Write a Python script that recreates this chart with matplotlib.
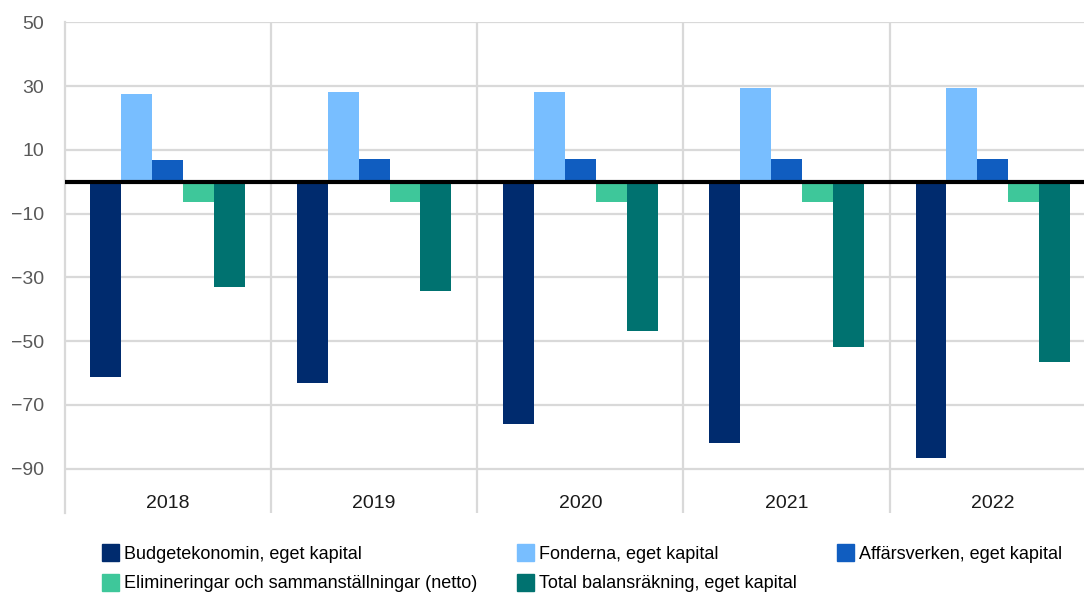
import matplotlib.pyplot as plt
import matplotlib.patches as mpatches
import numpy as np

plt.rcParams['font.family'] = ['Liberation Sans', 'DejaVu Sans']

years = ['2018', '2019', '2020', '2021', '2022']
budget = [-61.4, -63.0, -75.9, -82.1, -86.8]
fonderna = [27.5, 28.1, 28.1, 29.4, 29.4]
affarsverken = [6.8, 7.1, 7.1, 7.1, 7.1]
elim = [-6.3, -6.3, -6.3, -6.3, -6.3]
total = [-32.9, -34.2, -46.7, -51.7, -56.4]

series = [
    ('Budgetekonomin, eget kapital', budget, '#002B6E'),
    ('Fonderna, eget kapital', fonderna, '#78BEFF'),
    ('Affärsverken, eget kapital', affarsverken, '#105DC0'),
    ('Elimineringar och sammanställningar (netto)', elim, '#3EC79A'),
    ('Total balansräkning, eget kapital', total, '#007270'),
]
yticks = [50, 30, 10, -10, -30, -50, -70, -90]

W, H = 1084, 596
fig = plt.figure(figsize=(W / 100, H / 100), dpi=100)
left, right, top, bottom = 64.7, 1096, 22.3, 513
ax = fig.add_axes([left / W, 1 - bottom / H, (right - left) / W, (bottom - top) / H])

x = np.arange(len(years))
bw = 0.15
for i, (name, vals, col) in enumerate(series):
    ax.bar(x + (i - 2) * bw, vals, width=bw, color=col, zorder=3, label=name)

ax.set_xlim(-0.5, 4.5)
ax.set_ylim(-103.9, 50)
ax.set_yticks(yticks)
ax.set_yticklabels([f'{v:d}'.replace('-', '\u2212') for v in yticks])
ax.set_xticks(x)
ax.set_xticklabels(years)

ax.grid(axis='y', color='#D9D9D9', lw=1.6, zorder=0)
for b in np.arange(0.5, 4.5, 1):
    ax.axvline(b, color='#D9D9D9', lw=1.6, zorder=0)
ax.axhline(0, color='black', lw=3, zorder=4)

for s in ['top', 'right', 'bottom']:
    ax.spines[s].set_visible(False)
ax.spines['left'].set_color('#D9D9D9')
ax.spines['left'].set_linewidth(1.6)

ax.tick_params(axis='y', length=0, labelsize=14, labelcolor='#595959', pad=15)
ax.tick_params(axis='x', length=0, labelsize=14, labelcolor='#1A1A1A', pad=-13)

# legend in three columns, placed like the original
patches = [mpatches.Patch(color=c, label=n) for n, v, c in series]
cols = [([patches[0], patches[3]], 102), ([patches[1], patches[4]], 517), ([patches[2]], 837)]
for hs, xpos in cols:
    leg = fig.legend(handles=hs, loc='upper left', bbox_to_anchor=(xpos / W, 1 - 544 / H),
                     frameon=False, fontsize=13, handlelength=0.95, handleheight=1.1,
                     handletextpad=0.25, labelspacing=0.6, borderaxespad=0, borderpad=0)

fig.savefig('out.png', dpi=100)
